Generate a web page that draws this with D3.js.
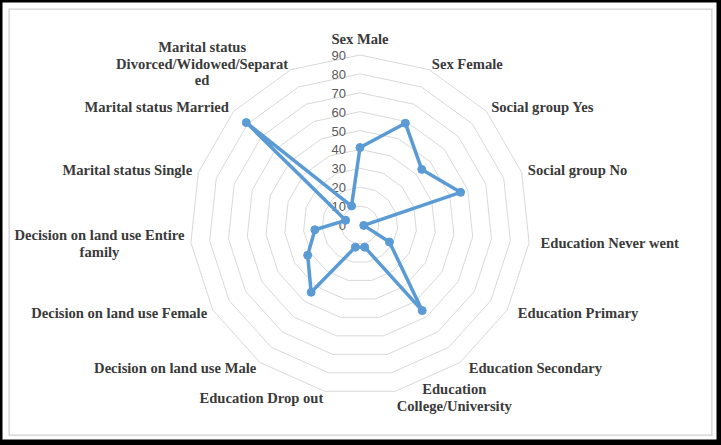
<!DOCTYPE html>
<html>
<head>
<meta charset="utf-8">
<script src="https://cdn.jsdelivr.net/npm/d3@7"></script>
<style>
  html, body { margin: 0; padding: 0; background: #000; }
  svg { display: block; }
</style>
</head>
<body>
<svg id="chart" width="721" height="445"></svg>
<script>
const categories = [
  "Sex Male", "Sex Female", "Social group Yes", "Social group No",
  "Education Never went", "Education Primary", "Education Secondary",
  "Education College/University", "Education Drop out",
  "Decision on land use Male", "Decision on land use Female",
  "Decision on land use Entire family", "Marital status Single",
  "Marital status Married", "Marital status Divorced/Widowed/Separated"
];
const labelLines = [
  ["Sex Male"], ["Sex Female"], ["Social group Yes"], ["Social group No"],
  ["Education Never went"], ["Education Primary"], ["Education Secondary"],
  ["Education", "College/University"], ["Education Drop out"],
  ["Decision on land use Male"], ["Decision on land use Female"],
  ["Decision on land use Entire", "family"], ["Marital status Single"],
  ["Marital status Married"], ["Marital status", "Divorced/Widowed/Separat", "ed"]
];
const values = [41, 59, 44, 56, 2, 18, 56, 12, 12, 44, 32, 24, 8, 81, 11];
const tickValues = [0, 10, 20, 30, 40, 50, 60, 70, 80, 90];

const svg = d3.select("#chart");
const W = 721, H = 445;
const cx = 360, cy = 225, R = 170;

// background & frame
svg.append("rect").attr("x", 0).attr("y", 0).attr("width", W).attr("height", H).attr("fill", "#000");
svg.append("rect").attr("x", 2.5).attr("y", 2.5).attr("width", 714).attr("height", 437).attr("fill", "#fff");
svg.append("rect").attr("x", 9.2).attr("y", 9.2).attr("width", 702.6).attr("height", 426)
  .attr("fill", "none").attr("stroke", "#d9d9d9").attr("stroke-width", 1.6);

const r = d3.scaleLinear().domain([0, 90]).range([0, R]);
const angle = d3.scaleLinear().domain([0, categories.length]).range([0, 2 * Math.PI]);

const g = svg.append("g").attr("transform", `translate(${cx},${cy})`);

// grid rings
const ringLine = d3.lineRadial().angle((d, i) => angle(i)).radius(d => r(d)).curve(d3.curveLinearClosed);
g.selectAll("path.ring").data(tickValues.filter(v => v > 0)).join("path")
  .attr("class", "ring")
  .attr("d", v => ringLine(categories.map(() => v)))
  .attr("fill", "none").attr("stroke", "#d9d9d9").attr("stroke-width", 1);

// tick labels
g.selectAll("text.tick").data(tickValues).join("text")
  .attr("class", "tick")
  .attr("x", -14)
  .attr("y", v => -r(v) + 0.5)
  .attr("text-anchor", "end")
  .attr("dominant-baseline", "central")
  .attr("font-family", "Liberation Sans, Arial, sans-serif")
  .attr("font-size", 13)
  .attr("fill", "#595959")
  .text(v => v);

// series
const seriesLine = d3.lineRadial().angle((d, i) => angle(i)).radius(d => r(d)).curve(d3.curveLinearClosed);
g.append("path").attr("d", seriesLine(values))
  .attr("fill", "none").attr("stroke", "#5b9bd5").attr("stroke-width", 3.5)
  .attr("stroke-linejoin", "round");
g.selectAll("circle.pt").data(values).join("circle")
  .attr("class", "pt")
  .attr("cx", (d, i) => r(d) * Math.sin(angle(i)))
  .attr("cy", (d, i) => -r(d) * Math.cos(angle(i)))
  .attr("r", 4)
  .attr("fill", "#5b9bd5").attr("stroke", "#5b9bd5").attr("stroke-width", 1);

// category labels
const lineH = 16.7, gap = 6.5;
categories.forEach((c, i) => {
  const a = angle(i);
  const s = Math.sin(a), co = Math.cos(a);
  const deg = a * 180 / Math.PI;
  const extra = (deg > 90 && deg < 160) ? 5 : 0;
  const px = (R + gap) * s + extra, py = -(R + gap) * co;
  const lines = labelLines[i];
  const lg = g.append("g");
  const texts = lg.selectAll("text").data(lines).join("text")
    .attr("x", 0)
    .attr("y", (d, k) => (k + 0.5) * lineH)
    .attr("text-anchor", "middle")
    .attr("dominant-baseline", "central")
    .attr("font-family", "Liberation Serif, Times New Roman, serif")
    .attr("font-weight", "bold")
    .attr("font-size", 14.6)
    .attr("fill", "#3a3a3a")
    .text(d => d);
  let w = 0;
  texts.each(function() { w = Math.max(w, this.getComputedTextLength()); });
  const h = lines.length * lineH;
  let x = px;
  if (s > 0.01) x = px + w / 2; else if (s < -0.01) x = px - w / 2;
  let y = (Math.abs(s) < 0.01 && co > 0) ? py - h - 1.5 : py - h / 2;
  lg.attr("transform", `translate(${x},${y})`);
});
</script>
</body>
</html>
